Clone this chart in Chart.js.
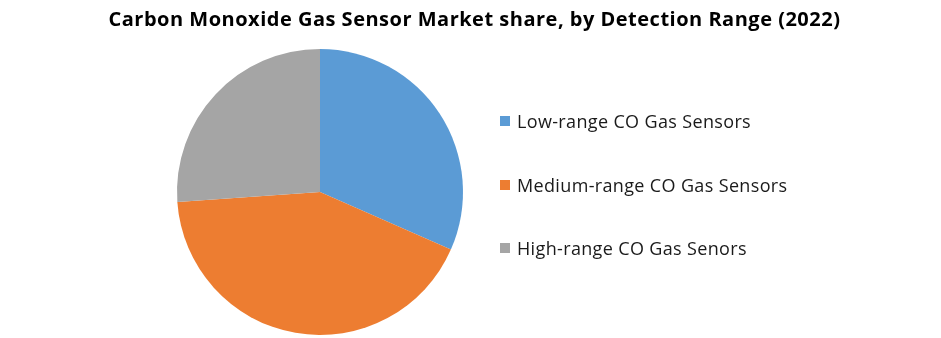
<!DOCTYPE html>
<html>
<head>
<meta charset="utf-8">
<script src="https://cdn.jsdelivr.net/npm/chart.js@4"></script>
<style>
    body { margin: 0; background: #fff; }
    #wrap { position: relative; width: 941px; height: 338px; }
    #titulo { position: absolute; left: 4px; width: 941px; top: 6px; text-align: center; font-family: 'Open Sans', sans-serif; font-weight: bold; font-size: 20px; letter-spacing: 0.5px; line-height: 26px; color: #000; white-space: nowrap; }
    #legend { position: absolute; left: 500px; top: 0; font-family: 'Open Sans', sans-serif; font-size: 18px; letter-spacing: 0.35px; color: #1a1a1a; }
    #legend .item { position: absolute; left: 0; white-space: nowrap; display: flex; align-items: center; line-height: 24px; }
    #legend .box { width: 10px; height: 10px; margin-right: 7px; }
</style>
</head>
<body>
<div id="wrap">
    <canvas id="grafico" width="941" height="338"></canvas>
    <div id="titulo"></div>
    <div id="legend"></div>
</div>
<script>
const titulo = 'Carbon Monoxide Gas Sensor Market share, by Detection Range (2022)';
const categorias = ['Low-range CO Gas Sensors', 'Medium-range CO Gas Sensors', 'High-range CO Gas Senors'];
const participacao = [31.6, 42.3, 26.1];
const cores = ['#5B9BD5', '#ED7D31', '#A5A5A5'];

document.getElementById('titulo').textContent = titulo;

const ctx = document.getElementById('grafico').getContext('2d');
const grafico = new Chart(ctx, {
    type: 'pie',
    data: {
        labels: categorias,
        datasets: [{
            data: participacao,
            backgroundColor: cores,
            borderWidth: 0
        }]
    },
    options: {
        responsive: false,
        animation: false,
        layout: {
            padding: { left: 177, right: 478, top: 49, bottom: 3 }
        },
        plugins: {
            legend: { display: false },
            tooltip: { enabled: false }
        }
    }
});

// legenda em HTML, montada a partir dos itens do próprio gráfico
const itens = grafico.options.plugins.legend.labels.generateLabels(grafico);
const posicoesY = [121, 185, 248];
let html = '';
itens.forEach((item, i) => {
    html += `<div class="item" style="top:${posicoesY[i] - 12}px">
                <span class="box" style="background:${item.fillStyle}"></span>${item.text}
             </div>`;
});
document.getElementById('legend').innerHTML = html;
</script>
</body>
</html>
